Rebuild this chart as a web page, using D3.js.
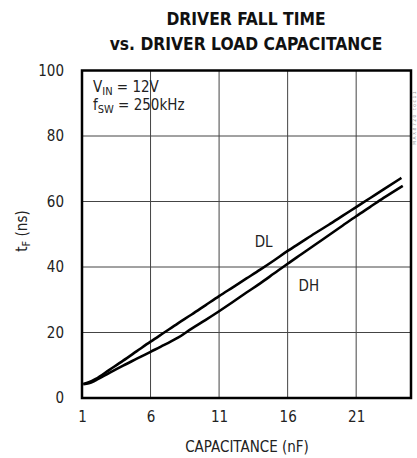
<!DOCTYPE html>
<html>
<head>
<meta charset="utf-8">
<script src="https://cdn.jsdelivr.net/npm/d3@7"></script>
<style>
  body { margin: 0; background: #fff; }
  svg text { font-family: "Liberation Sans Narrow", "Arial Narrow", "DejaVu Sans Condensed", sans-serif; fill: #222; }
</style>
</head>
<body>
<svg id="chart" width="417" height="458"></svg>
<script>
// values
const xTicks = [1, 6, 11, 16, 21];
const yTicks = [0, 20, 40, 60, 80, 100];

const dlCap = [1.1, 1.5, 2, 3, 4, 5, 6, 7, 8, 9, 10, 11, 12, 13, 14, 15, 16, 17, 18, 19, 20, 21, 22, 23, 24.3];
const dlTime = [4.3, 4.8, 5.8, 8.6, 11.4, 14.3, 17.2, 20, 22.8, 25.5, 28.3, 31.1, 33.8, 36.5, 39.2, 42, 44.9, 47.6, 50.3, 52.9, 55.6, 58.3, 61, 63.7, 67.2];

const dhCap = [1.1, 1.5, 2, 3, 4, 5, 6, 7, 8, 9, 10, 11, 12, 13, 14, 15, 16, 17, 18, 19, 20, 21, 22, 23, 24.4];
const dhTime = [4.2, 4.5, 5.4, 7.7, 9.9, 12, 14.1, 16.2, 18.4, 21.2, 23.8, 26.5, 29.3, 32.2, 35, 38, 41, 43.9, 46.8, 49.7, 52.6, 55.5, 58.3, 61.1, 64.8];

const margin = { top: 70.5, left: 82 };
const width = 329;
const height = 327.5;

const svg = d3.select('#chart');

const xScale = d3.scaleLinear().domain([1, 25]).range([0, width]);
const yScale = d3.scaleLinear().domain([0, 100]).range([height, 0]);

const g = svg.append('g')
    .attr('transform', `translate(${margin.left}, ${margin.top})`);

// title
svg.append('text')
    .attr('x', 246).attr('y', 25)
    .attr('text-anchor', 'middle')
    .style('font-size', '17.3px').style('font-weight', 'bold').style('fill', '#111')
    .text('DRIVER FALL TIME');
svg.append('text')
    .attr('x', 246).attr('y', 50)
    .attr('text-anchor', 'middle')
    .style('font-size', '17.3px').style('font-weight', 'bold').style('fill', '#111')
    .text('vs. DRIVER LOAD CAPACITANCE');

// grid
g.append('g').selectAll('line')
    .data(xTicks.slice(1))
    .enter().append('line')
    .attr('x1', d => xScale(d)).attr('x2', d => xScale(d))
    .attr('y1', 0).attr('y2', height)
    .attr('stroke', '#444').attr('stroke-width', 1);
g.append('g').selectAll('line')
    .data(yTicks.slice(1, -1))
    .enter().append('line')
    .attr('y1', d => yScale(d)).attr('y2', d => yScale(d))
    .attr('x1', 0).attr('x2', width)
    .attr('stroke', '#444').attr('stroke-width', 1);

// axes (labels only, frame drawn separately)
const xAxis = d3.axisBottom(xScale).tickValues(xTicks).tickSize(0).tickPadding(13);
const yAxis = d3.axisLeft(yScale).tickValues(yTicks).tickSize(0).tickPadding(18);

g.append('g')
    .attr('transform', `translate(0, ${height})`)
    .call(xAxis)
    .call(a => a.select('.domain').remove())
    .selectAll('text')
    .style('font-size', '15px').style('font-family', null);

g.append('g')
    .call(yAxis)
    .call(a => a.select('.domain').remove())
    .selectAll('text')
    .style('font-size', '15px').style('font-family', null);

// frame
g.append('rect')
    .attr('width', width).attr('height', height)
    .attr('fill', 'none').attr('stroke', '#000').attr('stroke-width', 2.5);

// curves
const line = d3.line()
    .x(d => xScale(d[0]))
    .y(d => yScale(d[1]))
    .curve(d3.curveMonotoneX);

g.append('path')
    .datum(d3.zip(dlCap, dlTime))
    .attr('d', line)
    .attr('fill', 'none').attr('stroke', '#000').attr('stroke-width', 2.6);
g.append('path')
    .datum(d3.zip(dhCap, dhTime))
    .attr('d', line)
    .attr('fill', 'none').attr('stroke', '#000').attr('stroke-width', 2.6);

// curve labels
g.append('text').attr('x', xScale(13.6)).attr('y', yScale(46.1))
    .style('font-size', '15px').text('DL');
g.append('text').attr('x', xScale(16.8)).attr('y', yScale(32.8))
    .style('font-size', '15px').text('DH');

// conditions
const cond1 = g.append('text').attr('x', 11).attr('y', 21.5).style('font-size', '15px');
cond1.append('tspan').text('V');
cond1.append('tspan').attr('dy', 3).style('font-size', '11px').text('IN');
cond1.append('tspan').attr('dy', -3).text(' = 12V');
const cond2 = g.append('text').attr('x', 11).attr('y', 39.5).style('font-size', '15px');
cond2.append('tspan').text('f');
cond2.append('tspan').attr('dy', 3).style('font-size', '11px').text('SW');
cond2.append('tspan').attr('dy', -3).text(' = 250kHz');

// axis titles
svg.append('text')
    .attr('x', 247).attr('y', 452)
    .attr('text-anchor', 'middle')
    .style('font-size', '15px')
    .text('CAPACITANCE (nF)');

const yTitle = svg.append('text')
    .attr('transform', 'translate(27, 231) rotate(-90)')
    .attr('text-anchor', 'middle')
    .style('font-size', '15px');
yTitle.append('tspan').text('t');
yTitle.append('tspan').attr('dy', 3).style('font-size', '11px').text('F');
yTitle.append('tspan').attr('dy', -3).text(' (ns)');

// figure id along the right edge
svg.append('text')
    .attr('transform', 'translate(416, 145) rotate(-90)')
    .style('font-size', '5px').style('fill', '#999').style('letter-spacing', '1.5px')
    .text('MAX8720 toc11');
</script>
</body>
</html>
